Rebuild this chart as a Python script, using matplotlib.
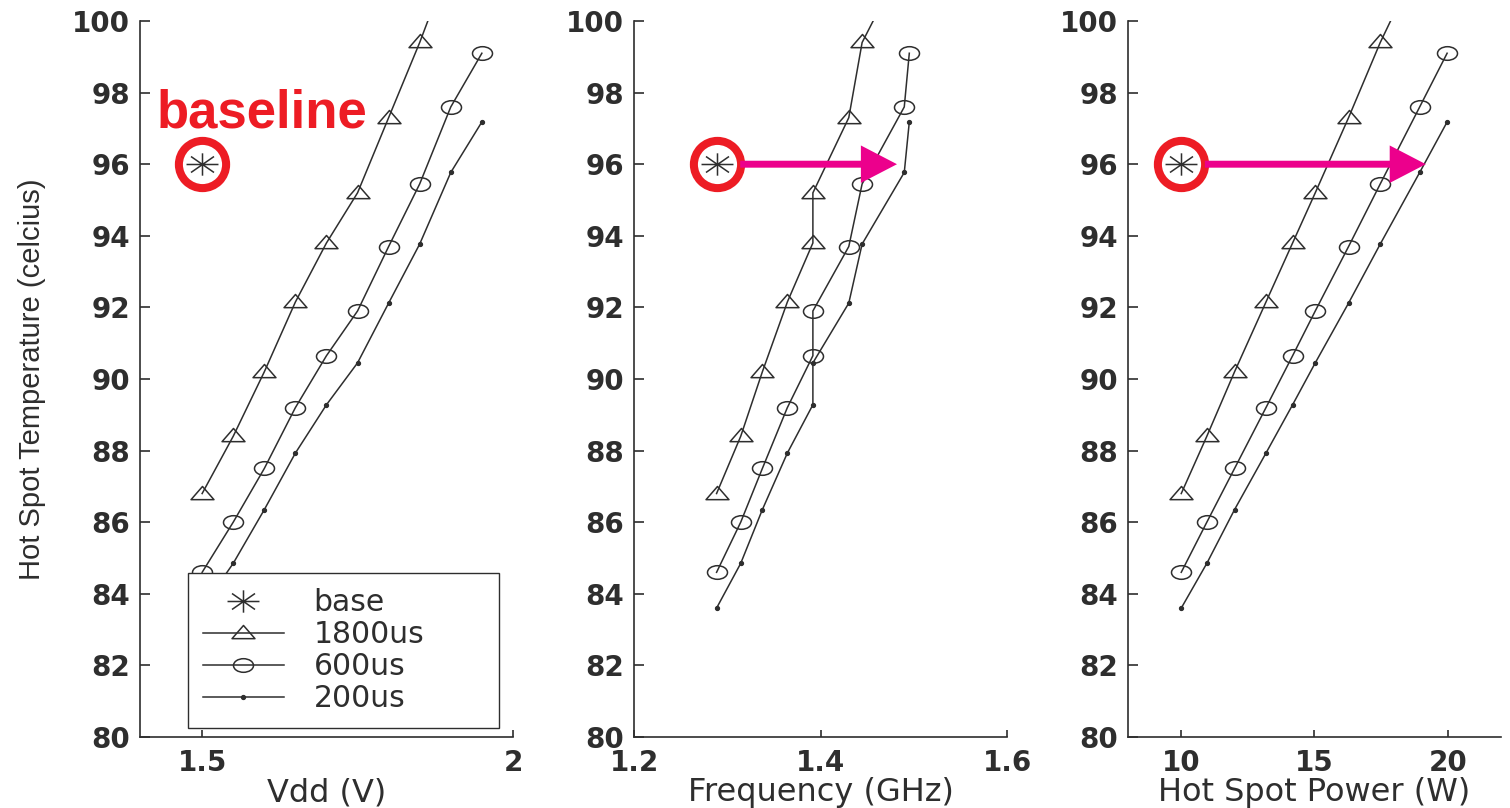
##########################################################################################
# Hot spot temperature vs Vdd / Frequency / Power  (3 panels, matlab look)
##########################################################################################
import numpy as np
import matplotlib
matplotlib.use('Agg')
import matplotlib.pyplot as plt
from matplotlib.path import Path
from matplotlib.transforms import Affine2D

##########################################################################################
#### Data
vdd   = [1.50, 1.55, 1.60, 1.65, 1.70, 1.75, 1.80, 1.85, 1.90, 1.95]
freq  = [1.2885, 1.3144, 1.3376, 1.3644, 1.3918, 1.3918, 1.4303, 1.4446, 1.4898, 1.4952]
power = [10.0, 10.96, 12.0, 13.18, 14.18, 15.03, 16.28, 17.47, 18.95, 19.98]

t1800 = [86.8, 88.4, 90.2, 92.15, 93.8, 95.2, 97.3, 99.4, 101.7]
t600  = [84.6, 86.0, 87.5, 89.2, 90.65, 91.9, 93.7, 95.45, 97.6, 99.1]
t200  = [83.6, 84.85, 86.35, 87.93, 89.28, 90.45, 92.12, 93.77, 95.77, 97.18]

base_temp = 96.0
arrow_tip = [None, 1.482, 19.18]     # where the magenta arrows end (x units of each panel)

series_names = ['base', '1800us', '600us', '200us']
xlabels = ['Vdd (V)', 'Frequency (GHz)', 'Hot Spot Power (W)']
xlims = [(1.4, 2.0), (1.2, 1.6), (8, 22)]
xticks = [[1.5, 2.0], [1.2, 1.4, 1.6], [10, 15, 20]]
xticklabels = [['1.5', '2'], ['1.2', '1.4', '1.6'], ['10', '15', '20']]
yticks = list(range(80, 101, 2))

##########################################################################################
#### Styles
dk = '#2e2e2e'
red = '#ED1C24'
mag = '#EC008C'

# matlab-ish markers (a bit squashed, like the original)
star = Path([(-1, 0), (1, 0), (0, -0.7), (0, 0.7),
             (-0.72, -0.5), (0.72, 0.5), (-0.72, 0.5), (0.72, -0.5)],
            [Path.MOVETO, Path.LINETO] * 4)
tri = Path([(-1, -0.45), (1, -0.45), (0, 0.7), (-1, -0.45)],
           [Path.MOVETO, Path.LINETO, Path.LINETO, Path.CLOSEPOLY])
ell = Path.unit_circle().transformed(Affine2D().scale(1, 0.68))

fig = plt.figure(figsize=(15.1, 8.08), dpi=100)
lefts = [0.0927, 0.4199, 0.7470]
xs_all = [vdd, freq, power]

for i in range(3):
    ax = fig.add_axes([lefts[i], 0.0879, 0.2470, 0.8861])
    xs = xs_all[i]

    h_base, = ax.plot(xs[0], base_temp, ls='none', marker=star, ms=23, mfc='none',
                      mec=dk, mew=1.1, zorder=4)
    h1, = ax.plot(xs[:len(t1800)], t1800, color=dk, lw=1.1, marker=tri, ms=16.5,
                  mfc='none', mec=dk, mew=1.1)
    h2, = ax.plot(xs, t600, color=dk, lw=1.1, marker=ell, ms=14.4,
                  mfc='none', mec=dk, mew=1.1)
    h3, = ax.plot(xs, t200, color=dk, lw=1.1, marker='o', ms=2.8, mfc=dk, mec=dk)

    # red ring round the baseline point
    ax.plot(xs[0], base_temp, 'o', ms=34, mfc='none', mec=red, mew=5.8, zorder=6, clip_on=False)

    if arrow_tip[i] is not None:
        ax.annotate('', xy=(arrow_tip[i], base_temp), xytext=(xs[0], base_temp),
                    arrowprops=dict(arrowstyle='simple,head_length=26,head_width=27,tail_width=5',
                                    mutation_scale=1, color=mag, lw=0, shrinkA=17, shrinkB=0),
                    zorder=7)

    ax.set_xlim(xlims[i])
    ax.set_ylim(80, 100)
    ax.set_xticks(xticks[i])
    ax.set_xticklabels(xticklabels[i])
    ax.set_yticks(yticks)

    ax.spines['top'].set_visible(False)
    ax.spines['right'].set_visible(False)
    for s in ['left', 'bottom']:
        ax.spines[s].set_color(dk)
        ax.spines[s].set_linewidth(1.2)
    ax.tick_params(axis='y', direction='in', length=7, width=1.2, color=dk, pad=7,
                   labelsize=20, labelcolor=dk)
    ax.tick_params(axis='x', direction='in', length=5, width=1.2, color=dk, pad=9,
                   labelsize=20, labelcolor=dk)
    for lab in ax.get_xticklabels() + ax.get_yticklabels():
        lab.set_fontweight('bold')
        lab.set_family('DejaVu Sans')

    ax.set_xlabel(xlabels[i], fontsize=23, color=dk, family='DejaVu Sans', labelpad=0)

    if i == 0:
        ax.set_ylabel('Hot Spot Temperature (celcius)', fontsize=21, color=dk,
                      family=['Liberation Sans Narrow', 'Liberation Sans'], labelpad=19)
        ax.text(0.327, 0.851, 'baseline', transform=ax.transAxes, ha='center', va='baseline',
                color=red, fontsize=38, fontweight='bold', family='Liberation Sans')
        leg = ax.legend([h_base, h1, h2, h3], series_names, loc='lower left',
                        bbox_to_anchor=(0.129, 0.0126, 0.833, 0.208), mode='expand',
                        borderaxespad=0, handlelength=2.7, handletextpad=1.0,
                        labelspacing=0.1, borderpad=0.5, fancybox=False, framealpha=1,
                        edgecolor=dk, prop={'family': 'DejaVu Sans', 'size': 21.5})
        leg.get_frame().set_linewidth(1.0)
        for t in leg.get_texts():
            t.set_color(dk)

fig.savefig('out.png', dpi=100)
